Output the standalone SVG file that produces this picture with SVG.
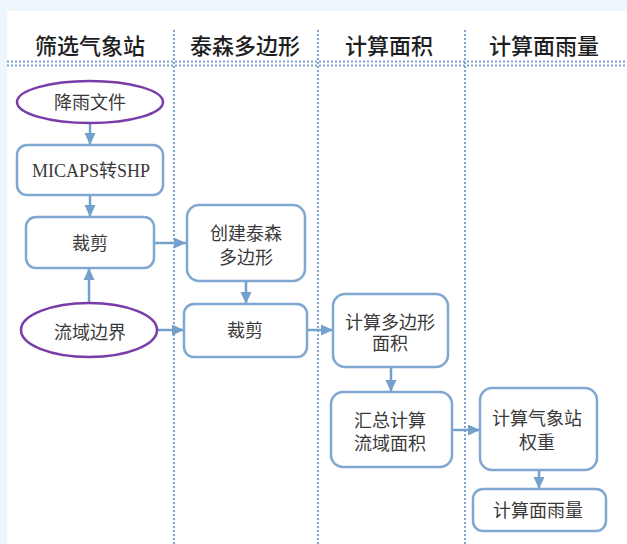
<svg xmlns="http://www.w3.org/2000/svg" width="627" height="544" viewBox="0 0 627 544">
<defs>
<style>
.node{fill:#fff;stroke:#7FA7D1;stroke-width:2.5}
.oval{fill:#fff;stroke:#7A3BA8;stroke-width:2.5}
.t{font-family:"Liberation Serif","Noto Sans CJK SC",serif;font-size:18px;fill:#3a3a3a;text-anchor:middle}
.h{font-family:"Noto Sans CJK SC",sans-serif;font-size:22px;font-weight:500;fill:#1e1e1e;text-anchor:middle}
.dot{stroke:#7EA6D2;stroke-width:2;stroke-dasharray:2 2;fill:none}
.c{stroke:#74A0CC;stroke-width:2.5;fill:none;marker-end:url(#ah)}
</style>
<marker id="ah" markerUnits="userSpaceOnUse" markerWidth="13" markerHeight="12" refX="12" refY="5.5" orient="auto">
<path d="M0,0 L12,5.5 L0,11 z" fill="#74A0CC"/>
</marker>
</defs>
<rect x="0" y="0" width="627" height="544" fill="#EEF6FD"/>
<rect x="7" y="11" width="620" height="533" fill="#fff"/>
<g id="lanes">
<text class="h" x="90" y="54">筛选气象站</text>
<text class="h" x="245" y="54">泰森多边形</text>
<text class="h" x="389" y="54">计算面积</text>
<text class="h" x="544" y="54">计算面雨量</text>
<line class="dot" x1="7" y1="61.5" x2="627" y2="61.5"/>
<line class="dot" x1="7" y1="65.5" x2="627" y2="65.5"/>
<line class="dot" x1="174" y1="30" x2="174" y2="544"/>
<line class="dot" x1="318" y1="30" x2="318" y2="544"/>
<line class="dot" x1="465" y1="30" x2="465" y2="544"/>
</g>
<g id="connectors">
<line class="c" x1="90" y1="123" x2="90" y2="145"/>
<line class="c" x1="90" y1="195" x2="90" y2="217"/>
<line class="c" x1="89" y1="303" x2="89" y2="268"/>
<line class="c" x1="154" y1="243" x2="186" y2="243"/>
<line class="c" x1="157" y1="330" x2="184" y2="330"/>
<line class="c" x1="246" y1="281" x2="246" y2="304"/>
<line class="c" x1="307" y1="330" x2="333" y2="330"/>
<line class="c" x1="391" y1="367" x2="391" y2="392"/>
<line class="c" x1="452" y1="430" x2="480" y2="430"/>
<line class="c" x1="539" y1="470" x2="539" y2="489"/>
</g>
<g id="n1"><ellipse class="oval" cx="90" cy="102" rx="73" ry="21"/><text class="t" x="90" y="108.5">降雨文件</text></g>
<g id="n2"><rect class="node" x="17" y="145" width="146" height="50" rx="10"/><text class="t" x="91" y="176.5">MICAPS转SHP</text></g>
<g id="n3"><rect class="node" x="26" y="217" width="128" height="51" rx="10"/><text class="t" x="90" y="249.5">裁剪</text></g>
<g id="n4"><ellipse class="oval" cx="89" cy="330" rx="68" ry="27"/><text class="t" x="90" y="338.5">流域边界</text></g>
<g id="n5"><rect class="node" x="187" y="205" width="118" height="76" rx="12"/><text class="t" x="246" y="239.5">创建泰森</text><text class="t" x="246" y="263.5">多边形</text></g>
<g id="n6"><rect class="node" x="184" y="304" width="123" height="53" rx="10"/><text class="t" x="245" y="336.5">裁剪</text></g>
<g id="n7"><rect class="node" x="333" y="294" width="115" height="73" rx="12"/><text class="t" x="390" y="328.5">计算多边形</text><text class="t" x="390" y="349.5">面积</text></g>
<g id="n8"><rect class="node" x="331" y="392" width="121" height="75" rx="12"/><text class="t" x="390" y="426.5">汇总计算</text><text class="t" x="390" y="449.5">流域面积</text></g>
<g id="n9"><rect class="node" x="480" y="388" width="117" height="82" rx="12"/><text class="t" x="537" y="424.5">计算气象站</text><text class="t" x="537" y="448.5">权重</text></g>
<g id="n10"><rect class="node" x="473" y="489" width="133" height="42" rx="10"/><text class="t" x="538" y="516.5">计算面雨量</text></g>
</svg>
